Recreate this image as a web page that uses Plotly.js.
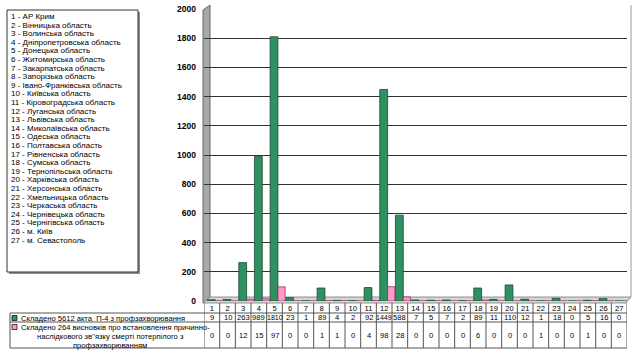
<!DOCTYPE html>
<html><head><meta charset="utf-8">
<script src="https://cdn.plot.ly/plotly-3.0.1.min.js"></script>
<style>html,body{margin:0;padding:0;background:#fff}#c{width:636px;height:360px}</style>
</head><body><div id="c"></div>
<script>
// ---- data ----
const regionNums = ['1','2','3','4','5','6','7','8','9','10','11','12','13','14','15','16','17','18','19','20','21','22','23','24','25','26','27'];
const regionNames = ['АР Крим','Вінницька область','Волинська область','Дніпропетровська область','Донецька область','Житомирська область','Закарпатська область','Запорізька область','Івано-Франківська область','Київська область','Кіровоградська область','Луганська область','Львівська область','Миколаївська область','Одеська область','Полтавська область','Рівненська область','Сумська область','Тернопільська область','Харківська область','Херсонська область','Хмельницька область','Черкаська область','Чернівецька область','Чернігівська область','м. Київ','м. Севастополь'];
const actsP4 = [9,10,263,989,1810,23,1,89,4,2,92,1449,588,7,5,7,2,89,11,110,12,1,18,0,5,16,0];
const deathConclusions = [0,0,12,15,97,0,0,1,1,0,4,98,28,0,0,0,0,6,0,0,0,1,0,0,1,0,0];
const series1Label = ['Складено 5612 акта  П-4 з профзахворювання'];
const series2Label = ['Складено 264 висновків про встановлення причинно-', "наслідкового зв''язку смерті потерпілого з", 'профзахворюванням'];
const yTicks = [0,200,400,600,800,1000,1200,1400,1600,1800,2000];

// ---- helpers ----
const W = 636, H = 360;
const px = x => x / W;
const py = y => 1 - y / H;
const FONT = 'Liberation Sans, Arial, sans-serif';
const xIdx = regionNums.map((_, i) => i + 1);
const GREEN = '#2f9161', PINK = '#ff99cc';

const traces = [
  {type: 'bar', x: xIdx, y: actsP4, width: 0.5, offset: -0.28,
   marker: {color: GREEN, line: {color: '#1b4a32', width: 0.8}}, hoverinfo: 'y'},
  {type: 'bar', x: xIdx, y: deathConclusions, width: 0.46, offset: 0.22,
   marker: {color: PINK, line: {color: '#8a3a62', width: 0.8}}, hoverinfo: 'y'}
];

const shapes = [];
const annotations = [];

// left gray wall (covers start of gridlines)
shapes.push({type: 'path', xref: 'paper', yref: 'paper', layer: 'between',
  path: `M ${px(203)} ${py(10)} L ${px(210)} ${py(5)} L ${px(210)} ${py(297)} L ${px(203)} ${py(303)} Z`,
  fillcolor: '#a8a8a8', line: {color: '#6a6a6a', width: 1}});
// floor
shapes.push({type: 'path', xref: 'paper', yref: 'paper', layer: 'between',
  path: `M ${px(203)} ${py(303)} L ${px(210)} ${py(297)} L ${px(631)} ${py(297)} L ${px(626)} ${py(303)} Z`,
  fillcolor: '#d6d6d6', line: {color: '#7a7a7a', width: 0.8}});
// right edge
shapes.push({type: 'line', xref: 'paper', yref: 'paper', x0: px(631), x1: px(631), y0: py(5), y1: py(297),
  line: {color: '#9a9a9a', width: 1}});

// legend box of regions
shapes.push({type: 'rect', xref: 'paper', yref: 'paper', x0: px(9), x1: px(140), y0: py(12), y1: py(274),
  fillcolor: '#8c8c8c', line: {width: 0}});
shapes.push({type: 'rect', xref: 'paper', yref: 'paper', x0: px(7), x1: px(138), y0: py(10), y1: py(272),
  fillcolor: '#ffffff', line: {color: '#333', width: 1}});
regionNames.forEach((n, i) => {
  annotations.push({xref: 'paper', yref: 'paper', x: px(9), y: py(16.5 + 8.6 * i), xanchor: 'left', yanchor: 'middle',
    text: regionNums[i] + ' - ' + n, showarrow: false, font: {family: FONT, size: 8, color: '#000'}});
});

// data table
const TL = 10, TC = 204, TR = 627, yHead = 303, yR1 = 313, yR2 = 322, yBot = 348;
const lc = {color: '#555', width: 1};
shapes.push({type: 'line', xref: 'paper', yref: 'paper', x0: px(TL), x1: px(TR), y0: py(yR1), y1: py(yR1), line: lc});
shapes.push({type: 'line', xref: 'paper', yref: 'paper', x0: px(TL), x1: px(TR), y0: py(yR2), y1: py(yR2), line: lc});
shapes.push({type: 'line', xref: 'paper', yref: 'paper', x0: px(TL), x1: px(TR), y0: py(yBot), y1: py(yBot), line: lc});
shapes.push({type: 'line', xref: 'paper', yref: 'paper', x0: px(TL), x1: px(TL), y0: py(yR1), y1: py(yBot), line: lc});
for (let i = 0; i <= regionNums.length; i++) {
  shapes.push({type: 'line', xref: 'x', yref: 'paper', x0: i + 0.5, x1: i + 0.5, y0: py(yHead), y1: py(yBot), line: lc});
}
regionNums.forEach((_, i) => {
  const s = String(actsP4[i]);
  annotations.push({xref: 'x', yref: 'paper', x: i + 1, y: py(317.8), text: s, showarrow: false,
    xanchor: 'center', yanchor: 'middle', font: {family: FONT, size: s.length > 3 ? 7 : 7.6, color: '#000'}});
  annotations.push({xref: 'x', yref: 'paper', x: i + 1, y: py(335), text: String(deathConclusions[i]), showarrow: false,
    xanchor: 'center', yanchor: 'middle', font: {family: FONT, size: 7.6, color: '#000'}});
});
// series keys
shapes.push({type: 'rect', xref: 'paper', yref: 'paper', x0: px(12), x1: px(17), y0: py(315.5), y1: py(320.5),
  fillcolor: GREEN, line: {color: '#000', width: 0.7}});
shapes.push({type: 'rect', xref: 'paper', yref: 'paper', x0: px(12), x1: px(17), y0: py(324.5), y1: py(329.5),
  fillcolor: PINK, line: {color: '#000', width: 0.7}});
annotations.push({xref: 'paper', yref: 'paper', x: px(19), y: py(318), xanchor: 'left', yanchor: 'middle',
  text: series1Label[0], showarrow: false, font: {family: FONT, size: 7.6, color: '#000'}});
series2Label.forEach((t, i) => {
  annotations.push({xref: 'paper', yref: 'paper', x: px(i === 0 ? 19 : 110), y: py(327 + 9 * i),
    xanchor: i === 0 ? 'left' : 'center', yanchor: 'middle',
    text: t, showarrow: false, font: {family: FONT, size: 7.6, color: '#000'}});
});

const layout = {
  width: W, height: H, margin: {l: 0, r: 0, t: 0, b: 0, pad: 0},
  paper_bgcolor: '#ffffff', plot_bgcolor: 'rgba(0,0,0,0)',
  showlegend: false, barmode: 'overlay',
  font: {family: FONT, color: '#000'},
  xaxis: {domain: [px(TC), px(TR)], range: [0.5, 27.5], tickmode: 'array', tickvals: xIdx, ticktext: regionNums,
    showgrid: false, zeroline: false, showline: false, ticks: '', ticklabelstandoff: 1,
    tickfont: {family: FONT, size: 7.6, color: '#000'}, fixedrange: true},
  yaxis: {domain: [py(301), py(9)], range: [0, 2000], tickmode: 'array', tickvals: yTicks,
    showgrid: true, gridcolor: '#333', gridwidth: 1, zeroline: false, showline: false, ticks: '',
    ticklabelstandoff: 7, tickfont: {family: FONT, size: 8.5, color: '#000', weight: 'bold'}, fixedrange: true},
  shapes: shapes, annotations: annotations
};
Plotly.newPlot('c', traces, layout, {displayModeBar: false, staticPlot: true});
</script></body></html>
